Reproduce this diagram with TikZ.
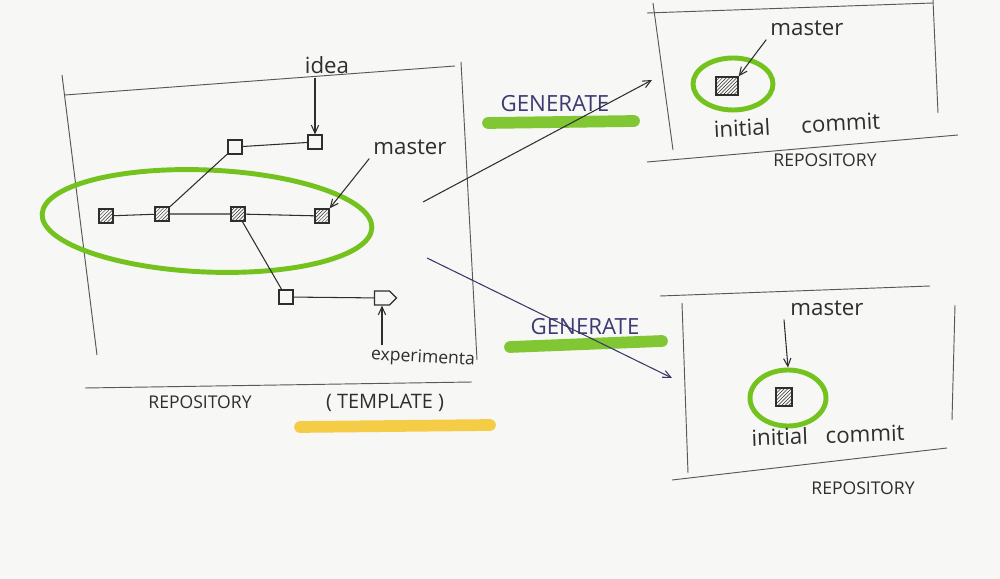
\documentclass[tikz,border=0pt]{standalone}
\usepackage{fontspec}
\setmainfont{Open Sans}
\usetikzlibrary{arrows.meta,positioning,patterns,shapes.geometric,shapes.symbols}

\definecolor{ink}{HTML}{2E2E2E}
\definecolor{pen}{HTML}{3C3A74}
\definecolor{marker}{HTML}{74C21E}
\definecolor{yellowmark}{HTML}{F5C834}
\definecolor{paper}{HTML}{F7F7F5}

\begin{document}
\begin{tikzpicture}[%
	x=0.3mm,y=-0.3mm,>={Straight Barb[length=2.4mm,width=2.2mm]},
	box/.style={draw=ink!80,line width=0.8pt},
	link/.style={draw=ink,line width=0.9pt},
	commit/.style={draw=ink,line width=1.1pt,minimum size=4.2mm,inner sep=0pt,
		pattern=north east lines,pattern color=ink},
	tipbox/.style={draw=ink,line width=1.1pt,minimum size=4.2mm,inner sep=0pt},
	ring/.style={ellipse,draw=marker,line width=4.2pt,inner sep=0pt},
	hand/.style={text=ink,font=\fontsize{19}{22}\selectfont},
	caps/.style={text=ink,font=\fontsize{15}{18}\selectfont},
	gen/.style={text=pen,font=\fontsize{19}{22}\selectfont},
	highlight/.style={line width=10pt,line cap=round,opacity=0.9}]

	\fill[paper] (0,0) rectangle (1000,579);
	\useasboundingbox (0,0) rectangle (1000,579);

	% template repository
	\draw[box] (62,75) -- (97,355);
	\draw[box] (65,95) -- (455,66);
	\draw[box] (461,62) -- (477,360);
	\draw[box] (85,388) -- (472,382);

	\node[ring,minimum width=99mm,minimum height=30.6mm,rotate=-2.4] (main) at (207,221) {};

	\node[commit]	(c1)	at (106,216)	{};
	\node[commit]	(c2)	at (162,214)	{};
	\node[commit]	(c3)	at (238,214)	{};
	\node[commit]	(c4)	at (322,216)	{};
	\node[tipbox]	(i1)	at (235,147)	{};
	\node[tipbox]	(i2)	at (315,142)	{};
	\node[tipbox]	(e1)	at (286,297)	{};
	\node[tipbox,signal,signal to=east,minimum width=6.6mm] (e2) at (382,298) {};

	\draw[link] (c1) -- (c2) -- (c3) -- (c4);
	\draw[link] (c2) -- (i1) -- (i2);
	\draw[link] (c3) -- (e1) -- (e2);

	\node[hand]				(idea)	at (327,65)		{idea};
	\node[hand]				(mst)	at (410,147)	{master};
	\node[hand,font=\fontsize{15}{18}\selectfont,rotate=-3]	(exp)	at (423,358)	{experimenta};

	\draw[link,->] (idea.south -| i2) -- (i2);
	\draw[link,->] (mst.south west) -- (c4.north east);
	\draw[link,->] (exp.north -| e2) -- (e2);

	\draw[highlight,yellowmark] (300,427) -- (490,425);
	\node[caps]	(repo)	at (200,402)	{REPOSITORY};
	\node[caps,font=\fontsize{17}{20}\selectfont]	(tmpl)	at (385,403)	{( TEMPLATE )};

	% generate
	\draw[highlight,marker] (488,123) -- (634,121);
	\draw[highlight,marker] (510,347) -- (662,341);
	\node[gen]	(gen1)	at (555,104)	{GENERATE};
	\node[gen]	(gen2)	at (585,327)	{GENERATE};

	\coordinate (g1s) at (423,202);
	\coordinate (g1e) at (652,80);
	\coordinate (g2s) at (427,258);
	\coordinate (g2e) at (672,378);
	\draw[link,->] (g1s) -- (g1e);
	\draw[link,->,draw=pen!80!ink] (g2s) -- (g2e);

	% first new repository
	\draw[box] (647,13) -- (933,3);
	\draw[box] (653,3) -- (673,150);
	\draw[box] (933,0) -- (938,113);
	\draw[box] (647,162) -- (958,135);

	\node[ring,minimum width=24mm,minimum height=15.6mm]	(ring1)	at (733,84)	{};
	\node[commit,minimum width=6.6mm,minimum height=5.4mm]	(r1c)	at (727,86)	{};
	\node[hand]				(r1m)	at (807,28)		{master};
	\node[hand,rotate=3]	(r1i)	at (797,125)	{initial\hspace{1.4em}commit};
	\node[caps]				(r1r)	at (825,160)	{REPOSITORY};
	\draw[link,->] (r1m.south west) -- (r1c.north east);

	% second new repository
	\draw[box] (660,296) -- (930,286);
	\draw[box] (682,303) -- (688,473);
	\draw[box] (955,305) -- (952,420);
	\draw[box] (672,480) -- (947,448);

	\node[ring,minimum width=22.8mm,minimum height=16.8mm]	(ring2)	at (788,398)	{};
	\node[commit,minimum width=4.8mm,minimum height=5.4mm]	(r2c)	at (784,397)	{};
	\node[hand]				(r2m)	at (827,308)	{master};
	\node[hand,rotate=2]	(r2i)	at (828,435)	{initial\hspace{0.8em}commit};
	\node[caps]				(r2r)	at (863,488)	{REPOSITORY};
	\draw[link,->] (r2m.south -| r2c) -- (ring2.north);

\end{tikzpicture}
\end{document}
